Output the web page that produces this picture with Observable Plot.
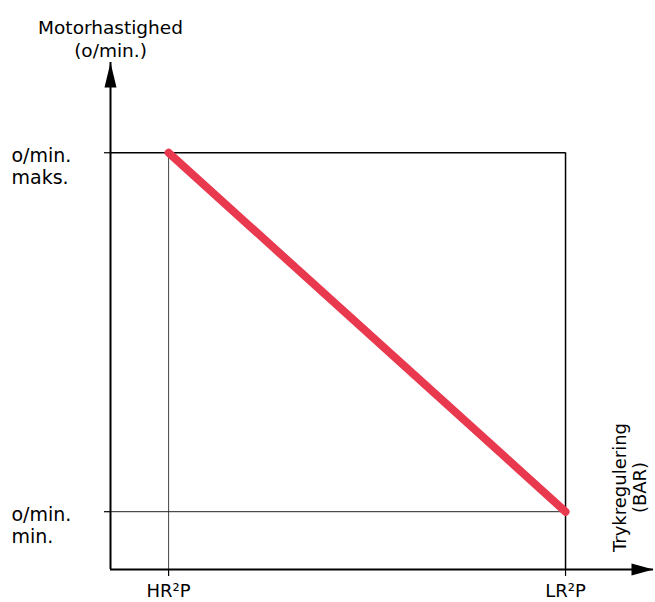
<!DOCTYPE html>
<html>
<head>
<meta charset="utf-8">
<script src="https://cdn.jsdelivr.net/npm/d3@7"></script>
<script src="https://cdn.jsdelivr.net/npm/@observablehq/plot@0.6"></script>
<style>
  html, body { margin: 0; padding: 0; background: white; }
  svg { display: block; }
</style>
</head>
<body>
<div id="chart"></div>
<script>
// ---- data ----
const domainX = [0, 10];
const domainY = [0, 10];
const xTickLabels = ["HR²P", "LR²P"];
const xTickValues = [1.07, 8.38];
const yTickLabels = ["o/min.\nmaks.", "o/min.\nmin."];
const yTickValues = [8.22, 1.14];
const yTitle = "Motorhastighed\n(o/min.)";
const xTitle = "Trykregulering\n(BAR)";
// red control line: from (HR²P, maks) to (LR²P, min)
const lineX = [1.07, 8.38];
const lineY = [8.22, 1.14];

const lineData = lineX.map((x, i) => ({x, y: lineY[i]}));
const xTicks = xTickValues.map((v, i) => ({v, label: xTickLabels[i]}));
const yTicks = yTickValues.map((v, i) => ({v, label: yTickLabels[i]}));

const upArrow = {
  draw(ctx) { ctx.moveTo(0, 0); ctx.lineTo(-6, 25); ctx.lineTo(6, 25); ctx.closePath(); }
};
const rightArrow = {
  draw(ctx) { ctx.moveTo(0, 0); ctx.lineTo(-22, -6); ctx.lineTo(-22, 6); ctx.closePath(); }
};

const chart = Plot.plot({
  width: 655,
  height: 602,
  marginLeft: 110,
  marginRight: 2,
  marginTop: 62,
  marginBottom: 33,
  x: {domain: domainX},
  y: {domain: domainY},
  style: {fontFamily: "DejaVu Sans", fontSize: "18px", background: "white", color: "black"},
  marks: [
    // inner guide lines
    Plot.ruleX([xTickValues[0]], {y1: domainY[0], y2: yTickValues[0], stroke: "#444", strokeWidth: 1}),
    Plot.ruleY([yTickValues[1]], {x1: domainX[0], x2: xTickValues[1], stroke: "#222", strokeWidth: 1}),
    // frame lines
    Plot.ruleY([yTickValues[0]], {x1: domainX[0], x2: xTickValues[1], stroke: "black", strokeWidth: 1.5}),
    Plot.ruleX([xTickValues[1]], {y1: domainY[0], y2: yTickValues[0], stroke: "black", strokeWidth: 1.5}),
    // ticks
    Plot.axisY({ticks: yTickValues, tickSize: 6, tickFormat: () => "", label: null, strokeWidth: 1.2}),
    Plot.axisX({ticks: xTickValues, tickSize: 7, tickFormat: () => "", label: null, strokeWidth: 1.2}),
    // main axes
    Plot.ruleX([domainX[0]], {stroke: "black", strokeWidth: 2}),
    Plot.ruleY([domainY[0]], {stroke: "black", strokeWidth: 2}),
    Plot.dot([{x: domainX[0], y: domainY[1]}], {x: "x", y: "y", symbol: upArrow, fill: "black", stroke: null}),
    Plot.dot([{x: domainX[1], y: domainY[0]}], {x: "x", y: "y", symbol: rightArrow, fill: "black", stroke: null}),
    // red line
    Plot.line(lineData, {x: "x", y: "y", stroke: "#e8394f", strokeWidth: 8, strokeLinecap: "round"}),
    // y tick labels
    Plot.text(yTicks, {y: "v", text: "label", frameAnchor: "left", textAnchor: "start", lineAnchor: "top",
      dx: -99, dy: -6, lineHeight: 1.16, fontSize: 19, fill: "black"}),
    // x tick labels
    Plot.text(xTicks, {x: "v", text: "label", frameAnchor: "bottom", lineAnchor: "top", dy: 15, fontSize: 18, fill: "black"}),
    // y title
    Plot.text([yTitle], {x: domainX[0], frameAnchor: "top", lineAnchor: "top", dy: -45, lineHeight: 1.25, fontSize: 18.5, fill: "black"}),
    // x title (rotated)
    Plot.text([xTitle], {frameAnchor: "bottom-right", rotate: -90, textAnchor: "middle", lineAnchor: "top",
      dx: -42, dy: -82, lineHeight: 1.12, fontSize: 18, fill: "black"})
  ]
});
document.getElementById("chart").appendChild(chart);
</script>
</body>
</html>
